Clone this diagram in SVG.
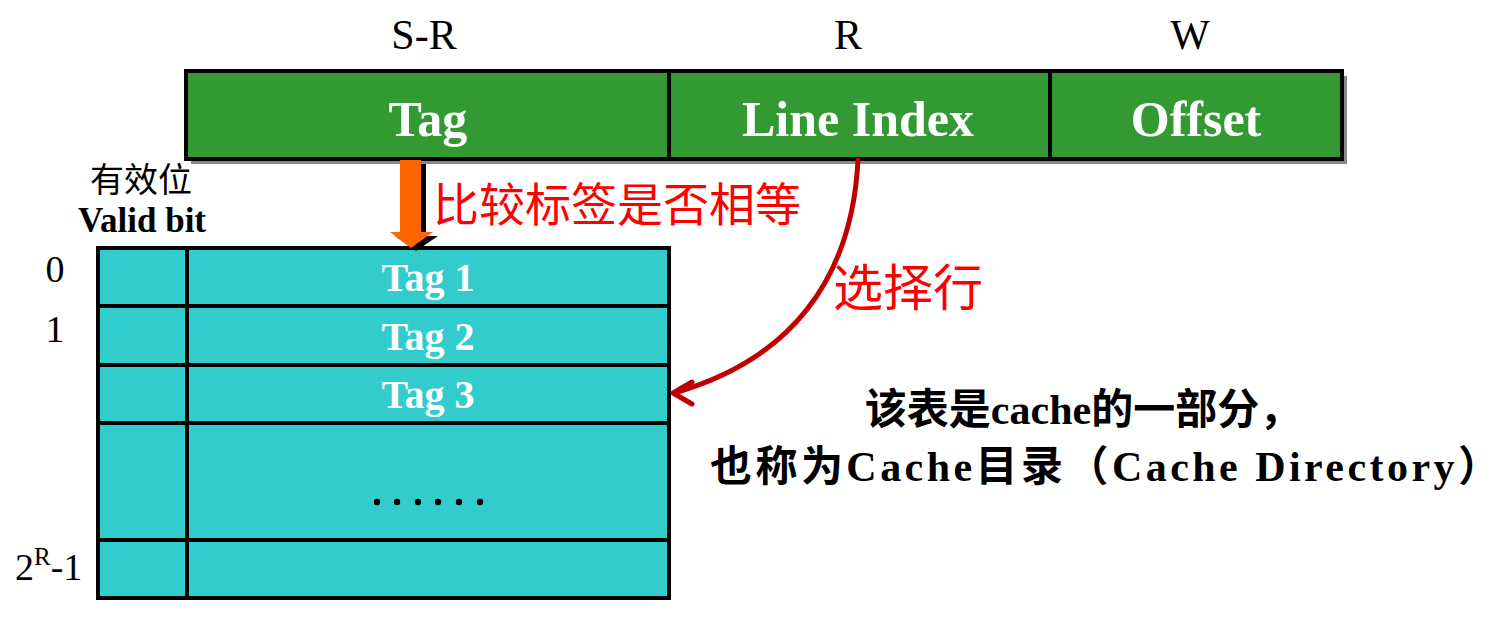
<svg xmlns="http://www.w3.org/2000/svg" width="1512" height="638" viewBox="0 0 1512 638">
<defs>
<style>
.hdr{font-family:"Liberation Serif","Noto Sans CJK SC",serif;font-size:42px;fill:#000;text-anchor:middle}
.fld{font-family:"Liberation Serif",serif;font-weight:bold;font-size:50px;fill:#fff;text-anchor:middle}
.row{font-family:"Liberation Serif",serif;font-weight:bold;font-size:40px;fill:#fff;text-anchor:middle}
.lbl{font-family:"Liberation Serif","Noto Sans CJK SC",serif;font-size:38px;fill:#000}
.red{font-family:"Liberation Serif","Noto Sans CJK SC",serif;font-size:46px;fill:#ff0000}
.note{font-family:"Liberation Serif","Noto Sans CJK SC",serif;font-weight:bold;font-size:42px;fill:#000;text-anchor:middle}
.box{fill:#339933;stroke:#000;stroke-width:4}
.cell{fill:#33cccc;stroke:#000;stroke-width:4}
.curve{fill:none;stroke:#c00000;stroke-width:5;stroke-linecap:round;stroke-linejoin:round}
</style>
</defs>
<rect width="1512" height="638" fill="#fff"/>
<g id="headers">
<text class="hdr" x="424" y="49">S-R</text>
<text class="hdr" x="848" y="49">R</text>
<text class="hdr" x="1190" y="49">W</text>
</g>
<g id="address">
<rect x="191" y="76" width="1156" height="88" fill="#888"/>
<rect class="box" x="186" y="71" width="483" height="88"/>
<rect class="box" x="669" y="71" width="381" height="88"/>
<rect class="box" x="1050" y="71" width="292" height="88"/>
<text class="fld" x="428" y="136">Tag</text>
<text class="fld" x="858" y="136">Line Index</text>
<text class="fld" x="1196" y="136">Offset</text>
</g>
<g id="labels">
<text class="lbl" x="141" y="192" text-anchor="middle" style="font-size:34px">有效位</text>
<text class="lbl" x="142" y="232" text-anchor="middle" style="font-weight:bold;font-size:35px">Valid bit</text>
<text class="lbl" x="55" y="282" text-anchor="middle">0</text>
<text class="lbl" x="55" y="342" text-anchor="middle">1</text>
<text class="lbl" x="15" y="580">2<tspan dy="-15" style="font-size:25px">R</tspan><tspan dy="15">-1</tspan></text>
</g>
<g id="table">
<rect class="cell" x="98" y="248" width="89" height="58"/>
<rect class="cell" x="187" y="248" width="482" height="58"/>
<rect class="cell" x="98" y="306" width="89" height="59"/>
<rect class="cell" x="187" y="306" width="482" height="59"/>
<rect class="cell" x="98" y="365" width="89" height="58"/>
<rect class="cell" x="187" y="365" width="482" height="58"/>
<rect class="cell" x="98" y="423" width="89" height="117"/>
<rect class="cell" x="187" y="423" width="482" height="117"/>
<rect class="cell" x="98" y="540" width="89" height="58"/>
<rect class="cell" x="187" y="540" width="482" height="58"/>
<text class="row" x="428" y="291">Tag 1</text>
<text class="row" x="428" y="350">Tag 2</text>
<text class="row" x="428" y="408">Tag 3</text>
<g fill="#000">
<circle cx="377" cy="502" r="3.2"/><circle cx="397" cy="502" r="3.2"/><circle cx="418" cy="502" r="3.2"/>
<circle cx="438" cy="502" r="3.2"/><circle cx="459" cy="502" r="3.2"/><circle cx="480" cy="502" r="3.2"/>
</g>
</g>
<g id="connectors">
<path d="M405 164 L426 164 L426 236 L438 236 L416 251 L395 236 L405 236 Z" fill="#000"/>
<path d="M400 160 L421 160 L421 232 L433 232 L411 248 L390 232 L400 232 Z" fill="#ff6600"/>
<path class="curve" d="M858 160 C852 280 790 360 674 393"/>
<path class="curve" d="M692 382 L673 393 L692 404"/>
</g>
<g id="texts">
<text class="red" x="433" y="221">比较标签是否相等</text>
<text class="red" x="833" y="306" style="font-size:50px">选择行</text>
<text class="note" x="1083" y="424">该表是cache的一部分，</text>
<text class="note" x="1105" y="481" textLength="790" lengthAdjust="spacing">也称为Cache目录（Cache Directory）</text>
</g>
</svg>
